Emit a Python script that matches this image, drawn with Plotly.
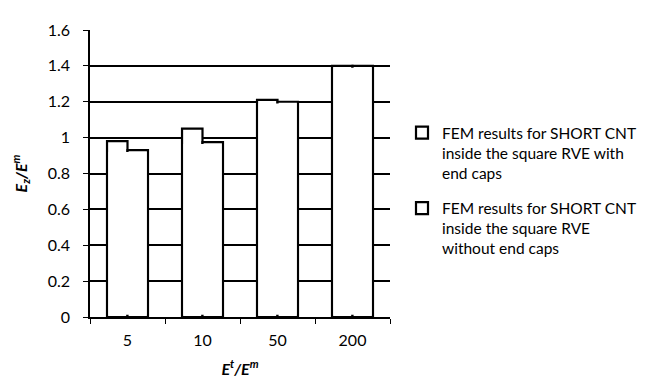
import plotly.graph_objects as go

categories = ["5", "10", "50", "200"]
with_caps = [0.98, 1.05, 1.21, 1.40]
without_caps = [0.93, 0.975, 1.20, 1.40]
legend_names = [
    "FEM results for SHORT CNT<br>inside the square RVE with<br>end caps",
    "FEM results for SHORT CNT<br>inside the square RVE<br>without end caps",
]
y_ticks = [0, 0.2, 0.4, 0.6, 0.8, 1.0, 1.2, 1.4, 1.6]
y_labels = ["0", "0.2", "0.4", "0.6", "0.8", "1", "1.2", "1.4", "1.6"]

FONT = "Lato"
W = 0.273  # bar width in category units
inner = [min(a, b) for a, b in zip(with_caps, without_caps)]

fig = go.Figure()
fig.add_trace(go.Bar(x=categories, y=with_caps, name=legend_names[0], legendgroup="a",
                     offset=-W, width=W,
                     marker=dict(color="white", line=dict(color="black", width=2.2))))
fig.add_trace(go.Bar(x=categories, y=without_caps, name=legend_names[1], legendgroup="b",
                     offset=0, width=W,
                     marker=dict(color="white", line=dict(color="black", width=2.2))))
# white fill that hides the shared inner edge so each pair reads as one outline
fig.add_trace(go.Bar(x=categories, y=[v - 0.022 for v in inner], base=0.012,
                     offset=-W + 0.02, width=2 * W - 0.04, showlegend=False,
                     hoverinfo="skip", marker=dict(color="white", line=dict(width=0))))

fig.update_layout(
    width=646, height=383,
    margin=dict(l=82, r=253, t=14, b=74),
    paper_bgcolor="white", plot_bgcolor="white",
    barmode="overlay",
    font=dict(family=FONT, size=15, color="black"),
    legend=dict(x=1.04, xanchor="left", y=0.70, yanchor="top",
                font=dict(family=FONT, size=15.5, color="black"),
                valign="top", tracegroupgap=12, itemwidth=30),
    xaxis=dict(showline=True, linecolor="black", linewidth=1.5,
               ticks="outside", tickson="boundaries", ticklen=5, tickcolor="black",
               tickfont=dict(family=FONT, size=16, color="black"),
               ticklabelstandoff=8,
               title=dict(text="<b><i>E</i></b><sup><b><i>t</i></b></sup><b><i>/E</i></b><sup><b><i>m</i></b></sup>",
                          font=dict(family=FONT, size=16), standoff=16)),
    yaxis=dict(range=[0, 1.6], tickvals=y_ticks, ticktext=y_labels,
               showline=True, linecolor="black", linewidth=1.5,
               showgrid=True, gridcolor="black", gridwidth=1.5,
               ticks="outside", ticklen=5, tickcolor="black",
               tickfont=dict(family=FONT, size=16, color="black"),
               ticklabelstandoff=10, zeroline=False,
               title=dict(text="<b><i>E</i></b><sub><b><i>z</i></b></sub><b><i>/E</i></b><sup><b><i>m</i></b></sup>",
                          font=dict(family=FONT, size=16), standoff=16)),
)

fig.write_html("out.html")
